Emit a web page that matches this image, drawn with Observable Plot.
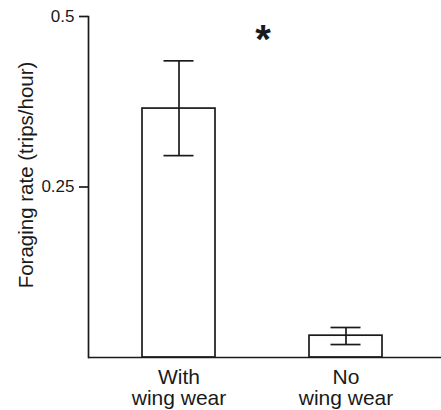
<!DOCTYPE html>
<html>
<head>
<meta charset="utf-8">
<script src="https://cdn.jsdelivr.net/npm/d3@7"></script>
<script src="https://cdn.jsdelivr.net/npm/@observablehq/plot@0.6"></script>
<style>
  html, body { margin: 0; padding: 0; background: #fff; }
  #chart { width: 441px; height: 410px; }
</style>
</head>
<body>
<div id="chart"></div>
<script>
const categories = ["With\nwing wear", "No\nwing wear"];
const means = [0.365, 0.032];
const errLow = [0.296, 0.019];
const errHigh = [0.435, 0.044];
const yTicks = [0.25, 0.5];
const yLabel = "Foraging rate (trips/hour)";
const significance = ["*"];

const data = categories.map((c, i) => ({group: c, mean: means[i], lo: errLow[i], hi: errHigh[i]}));

const ink = "#1a1a1a";
const chart = Plot.plot({
  width: 441,
  height: 410,
  marginLeft: 88,
  marginRight: 0,
  marginTop: 16,
  marginBottom: 53,
  style: {fontFamily: "'Liberation Sans', Arial, Helvetica, sans-serif", color: ink, background: "#fff"},
  x: {domain: categories, paddingInner: 0.564, paddingOuter: 0.336, align: 0.48},
  y: {domain: [0, 0.5]},
  marks: [
    Plot.barY(data, {x: "group", y: "mean", fill: "white", stroke: ink, strokeWidth: 1.7}),
    Plot.ruleX(data, {x: "group", y1: "lo", y2: "hi", stroke: ink, strokeWidth: 1.7}),
    Plot.tickY(data, {x: "group", y: "lo", stroke: ink, strokeWidth: 1.7, insetLeft: 21.5, insetRight: 21.5}),
    Plot.tickY(data, {x: "group", y: "hi", stroke: ink, strokeWidth: 1.7, insetLeft: 21.5, insetRight: 21.5}),
    Plot.ruleY([0], {stroke: ink, strokeWidth: 1.7}),
    Plot.frame({anchor: "left", stroke: ink, strokeWidth: 1.7}),
    Plot.axisY({ticks: yTicks, tickFormat: d => String(d), tickSize: 9, tickPadding: 5, fontSize: 17, stroke: ink, strokeWidth: 1.7, label: null}),
    Plot.text([yLabel], {text: d => d, frameAnchor: "left", rotate: -90, dx: -70, dy: -12, textAnchor: "middle", lineAnchor: "top", fontSize: 20.5, fill: ink}),
    Plot.axisX({tickSize: 0, tickPadding: 11, fontSize: 21, lineHeight: 1.03, label: null, fill: ink}),
    Plot.text(significance, {text: d => d, frameAnchor: "top", lineAnchor: "middle", dx: -2, dy: 24, fontSize: 40, fontWeight: "bold", fill: ink})
  ]
});
document.getElementById("chart").appendChild(chart);
</script>
</body>
</html>
